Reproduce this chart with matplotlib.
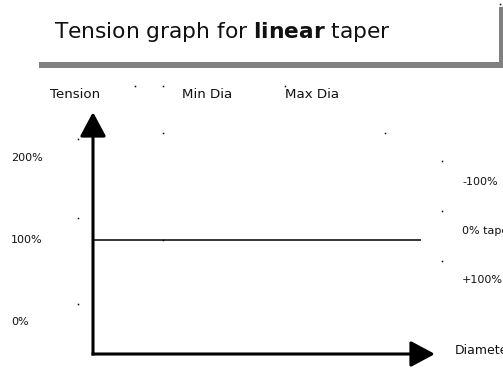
import matplotlib
matplotlib.use("Agg")
import matplotlib.pyplot as plt
from matplotlib.patches import Rectangle

# ---- data ----
title_plain_1 = "Tension graph for "
title_bold = "linear"
title_plain_2 = " taper"
header_labels = ["Tension", "Min Dia", "Max Dia"]
tension_ticks = [0, 100, 200]
tension_tick_labels = ["0%", "100%", "200%"]
taper_labels = ["-100%", "0% taper", "+100%"]
x_axis_label = "Diameter"
line_diameter = [0, 100]
line_tension = [100, 100]

W, H = 503, 369
fig = plt.figure(figsize=(W / 100, H / 100), dpi=100)
fig.patch.set_facecolor("white")


def fx(x):
    return x / W


def fy(y):
    return 1 - y / H


# axes over whole figure; data mapping: diameter 0..100 -> px 93..421, tension 100 -> px 240
ax = fig.add_axes([0, 0, 1, 1])
px_per_d = 3.28
px_per_t = 0.82
ax.set_xlim(-93 / px_per_d, (W - 93) / px_per_d)
ax.set_ylim(100 - (H - 240) / px_per_t, 100 + 240 / px_per_t)
ax.axis("off")

# title box with shadow
shadow = "#808080"
fig.patches.append(Rectangle((fx(39), fy(68)), fx(503 - 39), 6 / H, transform=fig.transFigure,
                             facecolor=shadow, edgecolor="none"))
fig.patches.append(Rectangle((fx(499), fy(68)), fx(4), 61 / H, transform=fig.transFigure,
                             facecolor=shadow, edgecolor="none"))
fig.text(fx(54), fy(38), title_plain_1 + r"$\bf{" + title_bold + "}$" + title_plain_2,
         fontsize=15.7, ha="left", va="baseline", color="#111111")

# header labels
for lab, x in zip(header_labels, [50, 182, 285]):
    fig.text(fx(x), fy(95), lab, fontsize=9.6, ha="left", va="center", color="#111111")

# y tick labels
for t, lab in zip(tension_ticks, tension_tick_labels):
    ax.text(-93 / px_per_d + 11 / px_per_d, t, lab, fontsize=8, ha="left", va="center",
            color="#111111")

# taper labels on right
for lab, y in zip(taper_labels, [182, 231, 280]):
    fig.text(fx(462), fy(y), lab, fontsize=8, ha="left", va="center", color="#111111")
fig.text(fx(455), fy(350), x_axis_label, fontsize=9, ha="left", va="center", color="#111111")

# axes arrows
y_base = 100 - (355.5 - 240) / px_per_t
y_tip = 100 + (240 - 112) / px_per_t
x_line_t = 100 - (354 - 240) / px_per_t
x_tip = (435 - 93) / px_per_d
arrow_style = "-|>,head_length=1.5,head_width=0.8"
ax.annotate("", xy=(0, y_tip), xytext=(0, y_base),
            arrowprops=dict(arrowstyle=arrow_style, mutation_scale=10, lw=2.2, color="black",
                            shrinkA=0, shrinkB=0, capstyle="butt"))
ax.annotate("", xy=(x_tip, x_line_t), xytext=(-0.45, x_line_t),
            arrowprops=dict(arrowstyle=arrow_style, mutation_scale=10, lw=2.2, color="black",
                            shrinkA=0, shrinkB=0, capstyle="butt"))

# tension line
ax.plot(line_diameter, line_tension, color="black", lw=1.1, solid_capstyle="butt")

# small anchor dots
dots_px = [(135, 86), (163, 86), (285, 86), (163, 133), (385, 133), (78, 139), (78, 218),
           (78, 304), (442, 161), (442, 211), (442, 261), (163, 240), (500, 4)]
for x, y in dots_px:
    fig.add_artist(plt.Line2D([fx(x)], [fy(y)], marker="s", markersize=1.1, markeredgewidth=0,
                              color="black", linestyle="none", transform=fig.transFigure))

fig.savefig("out.png", dpi=100)
